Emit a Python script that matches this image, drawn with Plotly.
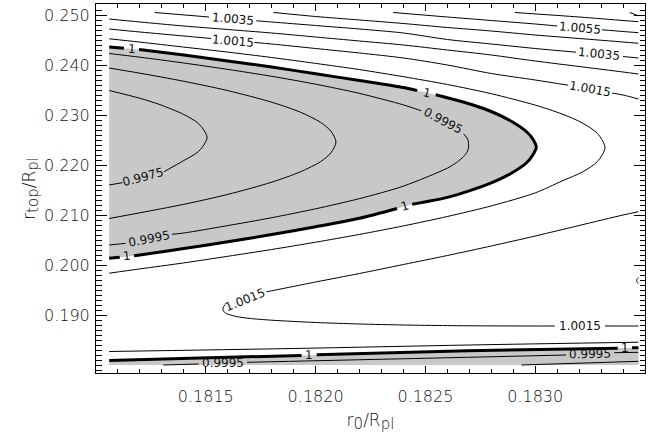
import plotly.graph_objects as go

N = None

# ---- traced contour paths (x = r0/Rpl, y = rtop/Rpl); None = gap at a contour label ----
c1_0075_x = [0.18343, 0.18347]
c1_0075_y = [0.2505, 0.24985]

c1_0065_x = [0.182907, 0.1832, 0.1834, 0.18347]
c1_0065_y = [0.2505, 0.2496, 0.2489, 0.24866]

c1_0055_x = [0.182353, 0.1826, 0.1828, 0.1830, 0.18310, N, 0.183305, 0.1834, 0.18347]
c1_0055_y = [0.2505, 0.2496, 0.2489, 0.2482, 0.2478, N, 0.24704, 0.2467, 0.24646]

c1_0045_x = [0.181808, 0.1820, 0.1822, 0.1824, 0.1826, 0.1828, 0.1830, 0.1832, 0.1834, 0.18347]
c1_0045_y = [0.2505, 0.2497, 0.2490, 0.2483, 0.2475, 0.2468, 0.2460, 0.2453, 0.2446, 0.24434]

c1_0035_x = [0.181268, 0.181515, N, 0.18173, 0.1818, 0.1820, 0.1822, 0.1824, 0.1826, 0.1828,
             0.1830, 0.183186, N, 0.1834, 0.18347]
c1_0035_y = [0.2505, 0.2496, N, 0.24884, 0.2486, 0.2479, 0.2472, 0.2464, 0.2451, 0.2442,
             0.2433, 0.24256, N, 0.2417, 0.2414]

c1_0025_x = [0.18106, 0.1812, 0.1814, 0.1816, 0.1818, 0.1820, 0.1822, 0.1824, 0.1826, 0.1828,
             0.1830, 0.1832, 0.1834, 0.18347]
c1_0025_y = [0.2492, 0.2486, 0.2478, 0.2471, 0.2464, 0.2456, 0.2448, 0.2440, 0.2430, 0.2420,
             0.2408, 0.2397, 0.2386, 0.2382]

c1_0015a_x = [0.18106, 0.1812, 0.1814, 0.181524, N, 0.181721, 0.1818, 0.1820, 0.1822, 0.1824,
              0.1826, 0.1828, 0.1830, 0.18315, N, 0.18335, 0.1834, 0.18347]
c1_0015a_y = [0.2472, 0.2466, 0.2458, 0.2453, N, 0.24452, 0.2442, 0.2433, 0.2424, 0.2414,
              0.2400, 0.2383, 0.2370, 0.23596, N, 0.2344, 0.2340, 0.2332]

c1_0005a_x = [0.18106, 0.1812, 0.1814, 0.1816, 0.1818, 0.1820, 0.1822, 0.1824, 0.1826, 0.1828,
              0.1830, 0.183122, 0.183214, 0.183283, 0.183318, 0.183283, 0.183214, 0.183122,
              0.1830, 0.1828, 0.1826, 0.1824, 0.1822, 0.1820, 0.1818, 0.1816, 0.1814, 0.1812, 0.18106]
c1_0005a_y = [0.24524, 0.24458, 0.24358, 0.24258, 0.2415, 0.24032, 0.23908, 0.23766, 0.2361, 0.23426,
              0.23198, 0.2302, 0.22842, 0.22632, 0.2235, 0.22068, 0.21858, 0.2168,
              0.21442, 0.21182, 0.2097, 0.20782, 0.20612, 0.20456, 0.2031, 0.20174, 0.20042, 0.19922, 0.19836]

c1_upper_x = [0.18106, 0.181127, N, 0.181196, 0.1814, 0.1816, 0.1818, 0.1820, 0.1822, 0.1824, 0.182463, N,
              0.182547, 0.1826, 0.18271, 0.1828, 0.182893, 0.182962, 0.182989, 0.183005, 0.182989,
              0.182962, 0.182893, 0.1828, 0.182692, 0.1826, 0.18244, N, 0.182371, 0.1822, 0.1820,
              0.1818, 0.1816, 0.1814, 0.1812, 0.181173, N, 0.181108, 0.18106]
c1_upper_y = [0.2436, 0.24336, N, 0.24308, 0.2420, 0.2408, 0.2396, 0.23824, 0.2369, 0.2355, 0.23488, N,
              0.23404, 0.23344, 0.2321, 0.2307, 0.2287, 0.2266, 0.2252, 0.2236, 0.2220,
              0.2205, 0.2184, 0.21644, 0.21474, 0.21352, 0.21214, N, 0.2113, 0.20934, 0.20764,
              0.20608, 0.20464, 0.2033, 0.20202, 0.20186, N, 0.20156, 0.20134]

c0_9995a_x = [0.18106, 0.1812, 0.1814, 0.1816, 0.1818, 0.1820, 0.1822, 0.1824, 0.182481, N,
              0.182674, 0.182692, 0.182697, 0.182692, 0.182674, 0.182642, 0.1826, 0.1824, 0.1822,
              0.1820, 0.1818, 0.1816, 0.1814, 0.181346, N, 0.181135, 0.18106]
c0_9995a_y = [0.2423, 0.24156, 0.2404, 0.23912, 0.23774, 0.23616, 0.23432, 0.23202, 0.23084, N,
              0.22622, 0.2252, 0.2240, 0.2228, 0.2217, 0.2205, 0.21938, 0.21578, 0.21328,
              0.21124, 0.20946, 0.20788, 0.2064, 0.20614, N, 0.20434, 0.2040]

c0_9985a_x = [0.18106, 0.1812, 0.1814, 0.1816, 0.1818, 0.181932, 0.182023, 0.182069, 0.182093,
              0.182069, 0.182023, 0.181932, 0.1818, 0.1816, 0.1814, 0.1812, 0.18106]
c0_9985a_y = [0.2394, 0.23836, 0.23674, 0.23488, 0.23256, 0.23054, 0.22852, 0.2268, 0.2246,
              0.2224, 0.22068, 0.21866, 0.21656, 0.21412, 0.21214, 0.21044, 0.2093]

c0_9975_x = [0.18106, 0.1812, 0.181291, 0.1814, 0.18146, 0.181488, 0.181506, 0.181488, 0.18146,
             0.1814, 0.18131, N, 0.18112, 0.18106]
c0_9975_y = [0.2349, 0.23334, 0.23208, 0.2301, 0.22854, 0.2272, 0.2255, 0.2238, 0.22246,
             0.2209, 0.21866, N, 0.21646, 0.2160]

c1_0015b_x = [0.18347, 0.1834, 0.1832, 0.1830, 0.1828, 0.1826, 0.1824, 0.1822, 0.1820, 0.1818, 0.181776, N,
              0.181588, 0.181578, 0.18158, 0.181593, 0.181639, 0.181703, 0.1818, 0.1820, 0.1822,
              0.1824, 0.1826, 0.1828, 0.1830, 0.183089, N, 0.183318, 0.1834, 0.18347]
c1_0015b_y = [0.21066, 0.2100, 0.2079, 0.2058, 0.2038, 0.2019, 0.2001, 0.1983, 0.1966, 0.19484, 0.19464, N,
              0.1921, 0.1914, 0.1908, 0.1903, 0.1897, 0.1893, 0.18896, 0.1885, 0.1882,
              0.1880, 0.18788, 0.18782, 0.1878, 0.1878, N, 0.1878, 0.1878, 0.1878]

c1_0025b_x = [0.18347, 0.183464, 0.183462, 0.183464, 0.18347]
c1_0025b_y = [0.1975, 0.1972, 0.1969, 0.1966, 0.1963]

c1_0005b_x = [0.18106, 0.1819, 0.1827, 0.18347]
c1_0005b_y = [0.1827, 0.1833, 0.1840, 0.18456]

c1_lower_x = [0.18106, 0.181474, 0.181936, N, 0.182005, 0.182692, 0.183376, N, 0.183441, 0.18347]
c1_lower_y = [0.1809, 0.1814, 0.1819, N, 0.18204, 0.18286, 0.18334, N, 0.18344, 0.18346]

c0_9995b_x = [0.181306, 0.181468, N, 0.181688, 0.182692, 0.183141, N, 0.18336, 0.18347]
c0_9995b_y = [0.1800, 0.1802, N, 0.18054, 0.18154, 0.1820, N, 0.18246, 0.18254]

c0_9985b_x = [0.182937, 0.18347]
c0_9985b_y = [0.1800, 0.18074]

# data-grid extent
x_left, x_right = 0.18106, 0.18347
y_bottom = 0.1800

# contour labels
lab_text = ["1.0035", "1.0015", "1", "1.0055", "1.0035", "1.0015", "1", "0.9995", "0.9975",
            "0.9995", "1", "1", "1.0015", "1.0015", "1", "0.9995", "0.9995", "1"]
lab_x = [0.181623, 0.181623, 0.181162, 0.183202, 0.183292, 0.18325, 0.182506, 0.182582, 0.181215,
         0.18124, 0.181141, 0.182406, 0.181677, 0.183203, 0.181971, 0.181577, 0.18325, 0.183411]
lab_y = [0.24922, 0.2449, 0.24326, 0.24742, 0.24212, 0.2352, 0.23444, 0.2288, 0.2176,
         0.20524, 0.20172, 0.21174, 0.19304, 0.1878, 0.18196, 0.18034, 0.18228, 0.18334]
lab_ang = [5, 5, 4, 5, 6, 10, 13, 28, -15, -11, -5, -16, -22, 0, -1, 0, -1, 0]

# axis ticks
x_ticks = [0.1815, 0.1820, 0.1825, 0.1830]
x_ticktext = ["0.1815", "0.1820", "0.1825", "0.1830"]
y_ticks = [0.19, 0.20, 0.21, 0.22, 0.23, 0.24, 0.25]
y_ticktext = ["0.190", "0.200", "0.210", "0.220", "0.230", "0.240", "0.250"]

GRAY = "rgb(200,200,200)"
FONT = "DejaVu Sans"

fig = go.Figure()

# gray regions (values below 1)
fx = [v for v in c1_upper_x if v is not None]
fy = [v for v in c1_upper_y if v is not None]
fig.add_trace(go.Scatter(x=fx, y=fy, fill="toself", fillcolor=GRAY, mode="none",
                         hoverinfo="skip", showlegend=False))
bx = [v for v in c1_lower_x if v is not None] + [x_right, x_left]
by = [v for v in c1_lower_y if v is not None] + [y_bottom, y_bottom]
fig.add_trace(go.Scatter(x=bx, y=by, fill="toself", fillcolor=GRAY, mode="none",
                         hoverinfo="skip", showlegend=False))

thin = [
    (c1_0075_x, c1_0075_y), (c1_0065_x, c1_0065_y), (c1_0055_x, c1_0055_y),
    (c1_0045_x, c1_0045_y), (c1_0035_x, c1_0035_y), (c1_0025_x, c1_0025_y),
    (c1_0015a_x, c1_0015a_y), (c1_0005a_x, c1_0005a_y), (c0_9995a_x, c0_9995a_y),
    (c0_9985a_x, c0_9985a_y), (c0_9975_x, c0_9975_y), (c1_0015b_x, c1_0015b_y),
    (c1_0025b_x, c1_0025b_y), (c1_0005b_x, c1_0005b_y), (c0_9995b_x, c0_9995b_y),
    (c0_9985b_x, c0_9985b_y),
]
for xs, ys in thin:
    fig.add_trace(go.Scatter(x=xs, y=ys, mode="lines", connectgaps=False,
                             line=dict(color="black", width=1, shape="spline", smoothing=0.8),
                             hoverinfo="skip", showlegend=False))
for xs, ys in [(c1_upper_x, c1_upper_y), (c1_lower_x, c1_lower_y)]:
    fig.add_trace(go.Scatter(x=xs, y=ys, mode="lines", connectgaps=False,
                             line=dict(color="black", width=3, shape="spline", smoothing=0.8),
                             hoverinfo="skip", showlegend=False))

for t, x, y, a in zip(lab_text, lab_x, lab_y, lab_ang):
    fig.add_annotation(x=x, y=y, text=t, textangle=a, showarrow=False,
                       xanchor="center", yanchor="middle",
                       font=dict(family=FONT, size=12, color="#111111"))

axis_common = dict(showgrid=False, zeroline=False, showline=True, linecolor="black",
                   linewidth=1, mirror="allticks", ticks="inside", tickcolor="black",
                   tickfont=dict(family=FONT, size=16, color="#111111", weight=300))

SUB = "<sub><span style='font-size:15px'>%s</span></sub>"

fig.update_xaxes(range=[0.181, 0.1835], tickmode="array", tickvals=x_ticks, ticktext=x_ticktext,
                 ticklen=7, ticklabelstandoff=9,
                 minor=dict(dtick=0.0001, tick0=0.181, ticks="inside", ticklen=4, tickcolor="black"),
                 title=dict(text="r" + SUB % "0" + "/R" + SUB % "pl", standoff=8,
                            font=dict(family=FONT, size=17, color="#111111", weight=300)),
                 **axis_common)
fig.update_yaxes(range=[0.1784, 0.2522], tickmode="array", tickvals=y_ticks, ticktext=y_ticktext,
                 ticklen=11, ticklabelstandoff=2,
                 minor=dict(dtick=0.001, tick0=0.18, ticks="inside", ticklen=5.5, tickcolor="black"),
                 title=dict(text="r" + SUB % "top" + "/R" + SUB % "pl", standoff=4,
                            font=dict(family=FONT, size=17, color="#111111", weight=300)),
                 **axis_common)

fig.update_layout(width=651, height=436, margin=dict(l=96, r=6, t=4, b=63),
                  paper_bgcolor="white", plot_bgcolor="white", showlegend=False)

fig.write_html("out.html")
